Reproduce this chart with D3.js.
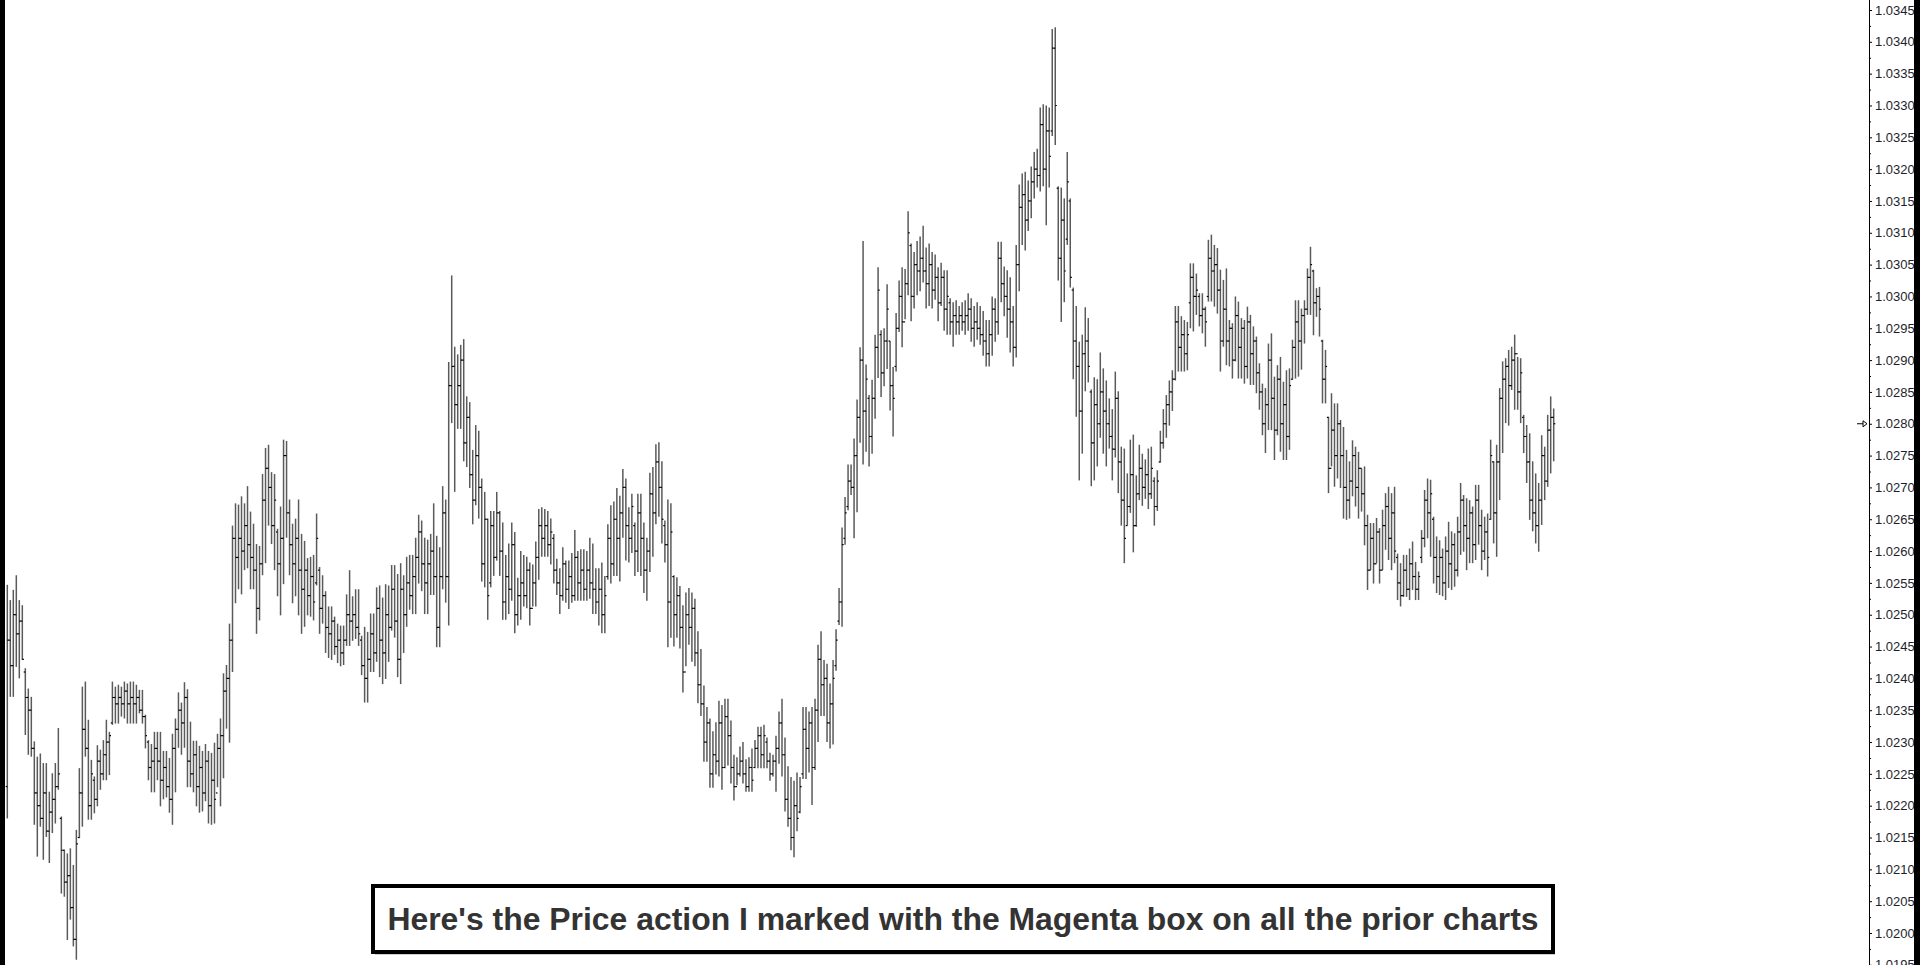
<!DOCTYPE html>
<html>
<head>
<meta charset="utf-8">
<script src="https://cdn.jsdelivr.net/npm/d3@7"></script>
<style>
  html, body { margin: 0; padding: 0; background: #fff; overflow: hidden; }
  svg { display: block; }
</style>
</head>
<body>
<svg id="chart" width="1920" height="965"></svg>
<script>
// all bar prices are in pips above 1.0000 (254.7 -> 1.02547)
const highs = [
254.7,252.3,253.9,256.2,252.3,251.5,241.6,238.4,237.1,230.1,
227.7,228.2,226.7,226.7,222.2,225.1,226.7,232.2,218.3,213.1,
212.5,213.3,210.7,216.2,225.9,238.7,239.5,233.5,227.2,224.6,
229.5,228.8,230.3,233.5,231.6,239.5,238.7,239.0,238.7,239.5,
239.2,239.5,239.5,239.0,238.2,238.2,234.3,230.3,229.7,231.6,
231.6,231.6,228.6,228.6,227.5,231.3,233.7,237.8,236.2,239.4,
238.3,233.2,230.2,230.2,229.4,228.6,229.7,228.6,228.3,229.9,
231.3,233.7,240.8,242.1,248.6,264.0,267.5,267.3,268.6,267.5,
270.2,266.2,264.3,261.1,260.8,272.1,276.2,276.7,272.4,272.1,
263.5,267.0,277.5,277.3,268.1,264.3,265.1,268.1,262.7,261.6,
258.9,259.1,259.4,265.9,257.5,256.2,253.7,251.3,251.3,249.7,
248.6,248.3,248.3,253.2,257.0,252.9,254.0,254.0,246.7,248.1,
247.3,250.2,250.2,254.3,254.6,252.7,254.8,254.6,257.8,257.8,
256.4,258.1,256.2,259.1,259.4,259.4,262.1,265.7,264.8,262.1,
261.8,262.7,267.5,262.4,260.6,270.2,268.1,289.7,303.3,292.1,
290.9,292.4,293.3,284.3,283.4,275.9,279.8,278.9,271.4,269.3,
265.1,266.3,266.3,269.3,266.3,264.5,259.4,261.2,264.5,263.0,
255.8,260.0,259.4,259.1,258.2,257.9,261.5,266.6,266.9,266.6,
266.3,265.1,262.7,258.8,257.3,260.6,258.5,258.5,259.7,263.3,
260.0,260.3,260.3,260.0,262.1,261.2,257.3,257.3,258.2,256.1,
264.2,267.2,267.8,269.9,268.7,272.9,271.4,266.9,269.0,264.5,
269.0,269.0,264.5,262.1,272.3,273.2,276.8,277.1,274.1,264.8,
268.1,267.5,256.2,255.9,254.5,251.5,253.5,254.2,253.5,252.5,
247.4,244.6,238.9,235.5,233.7,231.7,233.1,236.5,235.8,236.8,
236.8,233.4,228.0,227.6,229.3,230.0,227.3,227.6,229.0,230.3,
232.4,232.4,232.7,230.7,228.3,228.0,231.0,234.8,236.8,230.7,
226.2,224.5,223.9,225.2,224.5,235.5,235.5,234.8,235.5,236.8,
245.3,247.4,242.9,242.3,239.2,242.9,247.7,254.2,263.7,268.5,
273.6,273.6,277.7,283.8,292.0,308.7,289.3,284.5,286.9,294.0,
304.6,294.7,295.0,301.9,293.0,288.9,297.4,302.5,304.6,304.3,
313.4,308.3,307.0,308.7,309.4,311.1,307.7,308.3,307.0,306.6,
304.6,305.3,304.1,304.1,299.7,299.1,299.4,298.5,299.1,299.4,
300.5,299.7,298.5,299.1,298.5,297.7,296.3,296.3,300.0,299.7,
308.6,308.6,304.7,304.1,303.0,298.5,308.1,317.6,319.3,319.6,
318.2,320.4,322.7,323.2,329.7,330.2,330.0,329.7,342.0,342.3,
317.3,317.1,315.4,322.7,315.4,301.4,298.5,292.9,294.0,298.3,
296.6,285.4,287.3,287.0,291.2,288.7,286.8,284.0,282.3,288.2,
285.1,276.4,276.1,272.2,277.5,278.3,271.9,276.7,275.3,274.4,
276.1,276.4,271.6,272.7,278.9,282.3,284.5,286.8,288.4,298.5,
298.5,296.9,296.3,296.0,305.2,305.2,303.6,300.5,300.5,298.4,
308.9,309.7,308.1,307.6,304.2,302.6,304.4,296.3,295.8,300.0,
299.2,296.6,296.3,298.4,297.1,295.3,293.7,289.5,286.3,285.6,
292.6,294.2,287.4,289.2,290.5,286.6,288.4,288.7,293.2,299.4,
299.4,298.1,299.4,304.4,307.8,304.2,301.3,301.5,293.2,291.6,
281.1,284.8,283.2,283.2,280.6,279.5,275.9,274.1,277.4,276.4,
275.6,273.0,273.3,265.7,264.4,264.4,265.2,263.6,266.5,269.1,
270.1,269.1,270.1,259.6,258.1,259.4,259.4,260.4,261.5,258.3,
256.8,263.3,269.6,271.4,271.2,265.4,262.3,261.7,260.4,262.3,
264.6,263.1,262.8,265.4,270.7,268.8,268.3,268.0,267.0,270.4,
270.4,266.5,265.4,265.9,277.5,274.1,276.7,285.6,289.8,290.3,
291.6,292.1,294.0,290.5,290.3,281.4,279.8,278.5,274.1,272.2,
270.7,278.2,276.4,281.4,284.3,282.4
];
const lows = [
218.0,237.1,237.1,241.8,240.0,242.9,231.1,228.0,227.7,217.0,
212.0,216.7,211.5,215.1,211.0,215.7,217.2,222.5,206.2,205.7,
198.9,202.1,197.9,195.8,214.9,216.7,227.7,217.8,217.8,218.8,
219.9,222.5,224.0,224.0,224.8,232.7,232.9,232.9,234.0,233.7,
232.9,232.9,232.9,232.9,234.5,232.9,229.0,224.0,222.1,222.1,
224.0,219.9,221.0,221.3,218.9,217.0,222.1,229.1,228.0,229.1,
222.9,222.9,222.1,219.9,218.9,219.1,220.7,217.2,217.0,217.2,
222.9,219.9,224.3,232.1,229.9,241.0,251.8,254.0,253.2,257.0,
257.3,254.0,254.0,247.0,249.1,256.2,258.1,264.0,261.1,257.0,
252.9,249.9,254.8,262.1,256.2,251.8,252.9,249.9,247.0,248.1,
249.9,249.7,249.1,254.6,247.0,248.6,244.0,243.2,242.9,243.7,
242.4,241.9,242.1,245.1,245.1,245.9,246.2,245.1,240.5,236.2,
236.2,241.0,241.0,242.6,240.2,239.1,239.9,242.6,247.5,246.4,
240.2,239.1,244.0,248.1,250.8,250.1,250.1,254.9,253.7,250.1,
250.1,253.1,253.1,244.9,244.9,254.0,251.9,248.3,280.1,269.3,
279.2,279.2,274.1,273.2,269.9,264.2,267.2,265.1,255.2,254.3,
249.2,254.3,256.1,258.5,256.1,249.2,249.2,250.1,252.2,247.1,
248.3,249.2,251.3,251.0,248.3,251.3,251.3,255.5,259.1,259.1,
259.1,257.9,254.9,253.1,250.1,252.2,251.9,250.9,251.9,252.2,
252.2,252.2,252.2,252.2,252.5,250.1,250.1,248.3,247.1,247.1,
255.5,254.9,256.1,256.1,255.2,262.1,258.5,258.2,259.7,256.1,
256.7,256.1,253.4,252.2,256.7,259.1,264.2,265.4,261.2,258.2,
244.9,246.4,245.0,246.4,244.7,237.8,241.9,245.3,242.6,241.9,
236.1,234.1,226.9,226.9,222.8,222.8,224.9,224.6,222.5,225.9,
226.3,223.5,220.8,223.2,224.6,223.5,222.2,222.2,222.2,225.9,
225.9,225.9,225.9,225.9,223.9,224.6,222.2,226.6,224.6,219.1,
216.7,213.0,211.9,216.0,218.8,224.2,224.2,225.2,220.1,225.6,
230.0,234.1,234.1,230.0,229.0,229.6,241.2,248.4,248.1,261.0,
266.4,268.8,262.0,266.1,277.0,273.6,275.6,273.3,275.3,280.8,
287.2,284.2,285.9,288.6,282.1,278.0,288.2,294.4,292.0,296.4,
300.2,296.1,298.1,300.2,300.8,302.2,298.1,298.5,298.1,299.5,
296.1,298.5,294.6,294.0,294.0,292.1,294.0,294.0,294.6,294.0,
294.6,292.9,292.1,293.2,292.4,290.7,289.0,289.0,290.7,292.9,
294.0,299.1,296.9,293.5,291.2,289.0,290.4,300.8,308.1,307.2,
310.3,312.3,315.4,317.1,316.5,317.3,311.2,317.1,325.2,323.8,
302.5,296.0,299.1,308.1,301.4,287.0,281.1,271.1,275.3,285.1,
286.5,270.2,271.1,273.3,277.8,275.3,273.3,276.1,271.1,274.7,
269.1,264.0,258.1,264.0,266.0,259.8,263.8,268.0,267.1,268.2,
266.6,268.2,264.0,266.3,273.9,276.1,277.8,279.7,282.0,286.8,
288.2,288.2,288.2,288.4,295.0,294.5,297.1,295.3,294.2,292.1,
299.2,299.2,298.4,297.3,288.2,292.1,289.2,289.0,287.1,289.8,
287.1,287.1,286.3,287.1,286.1,286.1,284.8,282.2,278.2,275.4,
279.0,279.0,274.3,278.2,275.6,274.3,274.3,275.9,286.9,287.1,
287.4,288.5,292.6,297.1,297.1,293.9,296.8,293.7,283.2,283.2,
269.1,273.3,270.1,271.4,269.9,265.1,264.9,265.1,268.6,267.0,
265.1,266.2,260.9,253.9,257.0,254.9,258.1,254.9,257.0,260.2,
258.6,257.0,258.1,252.3,251.3,252.8,252.8,252.3,253.9,252.3,
252.3,258.1,260.6,262.0,259.1,254.9,253.4,253.1,252.9,252.3,
254.2,253.9,254.4,256.0,259.4,259.9,257.0,258.1,258.1,258.6,
261.0,257.0,258.6,256.0,264.9,261.2,259.1,268.0,275.4,280.1,
279.7,285.3,282.2,282.2,280.1,275.4,270.7,264.9,263.1,261.2,
259.9,264.1,268.0,270.1,272.2,274.1
];
const opens = [
223,246,242,250,247,249,241,237,235,229,
222,220,218,222,216,219,221,223,218,213,
208,209,204,199,215,222,232,229,220,224,
221,227,225,228,230,233,237,236,237,236,
238,236,237,236,237,235,234,230,226,227,
229,227,224,226,223,221,229,232,235,233,
237,227,225,228,223,226,222,227,220,224,
222,229,231,238,240,246,262,259,262,260,
264,261,259,257,251,258,268,273,270,264,
263,258,262,275,266,261,258,262,257,254,
257,253,256,255,257,251,253,248,247,249,
245,246,244,246,250,249,250,248,246,242,
240,243,247,244,251,246,244,250,248,254,
249,243,254,250,255,253,256,259,263,258,
255,258,260,256,248,256,266,256,286,289,
283,286,290,277,281,272,268,275,270,258,
265,255,264,259,266,260,252,256,254,261,
250,253,255,253,257,251,255,259,264,262,
264,261,262,257,255,253,258,254,256,253,
259,255,257,254,257,255,254,252,254,250,
256,262,258,265,262,266,270,264,262,264,
260,266,262,257,260,269,266,274,270,264,
261,252,256,250,253,248,241,250,248,251,
244,239,236,230,233,225,228,227,233,226,
234,231,226,223,225,227,225,223,226,226,
229,231,228,230,227,225,227,229,233,228,
221,218,215,220,219,225,232,229,233,226,
235,243,239,240,233,236,242,249,252,262,
267,271,270,275,281,290,282,284,278,284,
292,294,288,293,293,286,289,295,300,296,
302,308,300,305,304,306,304,302,305,301,
303,299,303,298,299,296,297,296,297,296,
297,298,295,296,295,294,293,291,294,298,
296,306,302,300,298,296,292,305,314,316,
312,315,318,320,319,327,320,326,326,339,
317,306,312,309,315,301,293,289,282,291,
293,285,277,283,280,285,282,280,278,276,
284,274,268,264,267,272,264,269,273,270,
272,269,271,267,274,277,280,283,285,287,
296,292,294,291,299,303,300,300,297,298,
300,306,304,305,301,293,298,293,295,290,
297,292,295,289,296,291,293,288,285,280,
283,290,284,279,287,280,283,278,287,292,
296,293,297,298,303,304,299,300,293,287,
281,273,279,275,280,275,270,268,271,275,
270,273,269,264,257,262,258,263,257,264,
267,262,266,259,255,253,257,254,258,256,
254,259,262,268,266,265,259,256,259,255,
260,258,261,257,263,268,264,262,266,261,
268,264,260,263,265,274,266,274,284,287,
289,286,290,291,285,281,278,274,268,266,
264,268,275,271,279,281
];
const closes = [
246,242,250,247,249,243,237,235,229,222,
220,218,222,216,219,221,223,225,213,208,
209,204,199,214,222,232,229,220,225,221,
227,225,228,230,231,237,236,237,236,238,
236,237,236,237,235,234,231,226,227,229,
227,224,226,223,221,229,232,235,233,237,
227,225,228,223,226,222,227,220,224,221,
229,231,238,240,246,262,259,262,260,264,
261,259,257,251,258,268,273,270,264,268,
258,262,275,266,261,258,262,257,254,257,
253,256,252,262,251,253,248,247,249,245,
246,244,246,250,249,250,248,247,242,240,
243,247,244,251,246,244,250,248,254,249,
243,254,250,255,253,256,259,263,258,255,
258,260,256,248,256,266,256,286,289,283,
286,290,277,281,272,268,275,270,258,265,
253,264,259,266,260,252,256,254,261,250,
253,255,253,257,251,255,259,264,262,264,
261,263,257,255,253,258,254,256,253,259,
255,257,254,257,255,254,252,254,250,253,
262,258,265,262,266,270,264,262,267,260,
266,262,257,260,269,266,274,270,265,261,
252,263,250,253,248,241,250,248,251,244,
239,236,230,233,225,228,227,233,226,234,
231,226,223,225,227,225,223,226,224,229,
231,228,231,227,225,227,229,233,228,221,
218,215,220,218,223,232,229,233,226,235,
243,239,240,233,236,240,246,252,261,266,
271,270,275,281,290,282,287,278,284,292,
301,288,293,298,286,284,295,300,296,302,
310,300,305,304,306,304,302,305,301,303,
299,303,298,300,296,297,296,297,296,297,
298,295,296,295,294,293,291,294,298,296,
306,302,300,298,296,292,305,314,316,312,
315,318,320,319,327,320,326,322,339,330,
306,312,304,318,303,293,289,282,291,293,
289,277,283,280,285,282,280,278,276,284,
274,268,262,267,272,264,269,273,270,272,
269,273,267,271,277,280,283,285,287,296,
292,294,291,294,303,300,301,297,298,296,
306,304,305,301,293,298,293,295,290,297,
292,295,289,296,291,293,288,285,280,283,
290,284,279,287,280,283,278,286,292,296,
293,297,298,303,305,299,300,298,287,289,
273,279,275,280,275,270,268,271,275,270,
273,269,264,257,262,258,263,257,264,267,
262,266,260,255,253,257,254,258,256,254,
256,262,268,266,269,259,256,259,255,260,
258,261,257,263,268,264,262,266,261,268,
264,260,263,259,275,266,274,284,287,289,
286,290,291,285,288,278,274,268,266,264,
268,275,271,279,281,280
];
const tickLabels = ["1.0195","1.0200","1.0205","1.0210","1.0215","1.0220","1.0225","1.0230",
  "1.0235","1.0240","1.0245","1.0250","1.0255","1.0260","1.0265","1.0270","1.0275","1.0280",
  "1.0285","1.0290","1.0295","1.0300","1.0305","1.0310","1.0315","1.0320","1.0325","1.0330",
  "1.0335","1.0340","1.0345"];
const lastPrice = 1.0280;
const caption = "Here's the Price action I marked with the Magenta box on all the prior charts";

const W = 1920, H = 965;
const axisX = 1869;
const svg = d3.select("#chart");
const toPrice = p => 1 + p / 10000;

const x = d3.scaleLinear().domain([0, highs.length - 1]).range([7.3, 1553.7]);
const y = d3.scaleLinear().domain([1.0200, 1.0345]).range([933, 10]);

const bars = highs.map((h, i) => ({
  i: i, h: toPrice(h), l: toPrice(lows[i]), o: toPrice(opens[i]), c: toPrice(closes[i])
}));

// OHLC bars
const gBars = svg.append("g").attr("class", "bars");
gBars.selectAll("line.hl").data(bars).join("line")
  .attr("class", "hl")
  .attr("x1", d => x(d.i)).attr("x2", d => x(d.i))
  .attr("y1", d => y(d.h)).attr("y2", d => y(d.l))
  .attr("stroke", "#5a5a5a").attr("stroke-width", 1.5);
gBars.selectAll("line.op").data(bars).join("line")
  .attr("class", "op")
  .attr("x1", d => x(d.i) - 1.6).attr("x2", d => x(d.i))
  .attr("y1", d => y(d.o)).attr("y2", d => y(d.o))
  .attr("stroke", "#000").attr("stroke-width", 1.2);
gBars.selectAll("line.cl").data(bars).join("line")
  .attr("class", "cl")
  .attr("x1", d => x(d.i)).attr("x2", d => x(d.i) + 1.6)
  .attr("y1", d => y(d.c)).attr("y2", d => y(d.c))
  .attr("stroke", "#000").attr("stroke-width", 1.2);

// price axis on the right
const majors = tickLabels.map(Number);
const minors = majors.map(v => v + 0.00025);
const gAxis = svg.append("g").attr("transform", "translate(" + axisX + ",0)");
gAxis.append("g")
  .call(d3.axisRight(y).tickValues(minors).tickFormat("").tickSize(2))
  .call(g => g.select(".domain").remove());
gAxis.append("g")
  .call(d3.axisRight(y).tickValues(majors).tickFormat(d3.format(".4f")).tickSize(3).tickPadding(3))
  .call(g => g.select(".domain").remove())
  .call(g => g.selectAll("text")
    .attr("font-family", "'Liberation Sans', Arial, sans-serif")
    .attr("font-size", 13)
    .attr("fill", "#1e1e2a"));
gAxis.selectAll(".tick line").attr("stroke", "#000");
gAxis.append("line").attr("x1", 0.5).attr("x2", 0.5).attr("y1", 0).attr("y2", H)
  .attr("stroke", "#000").attr("stroke-width", 1);

// last price marker
const my = y(lastPrice);
svg.append("path")
  .attr("d", "M" + (axisX - 12) + "," + my + "H" + (axisX - 6) +
             "M" + (axisX - 6) + "," + (my - 3) + "L" + (axisX - 2) + "," + my + "L" + (axisX - 6) + "," + (my + 3) + "Z")
  .attr("fill", "#fff").attr("stroke", "#000").attr("stroke-width", 1);

// black edges
svg.append("rect").attr("x", 0).attr("y", 0).attr("width", 5).attr("height", H).attr("fill", "#000");
svg.append("rect").attr("x", 1914).attr("y", 0).attr("width", 6).attr("height", H).attr("fill", "#000");

// caption box
const box = {x: 373, y: 886, w: 1180, h: 66};
svg.append("rect").attr("x", box.x + 2).attr("y", box.y + 3).attr("width", box.w).attr("height", box.h)
  .attr("fill", "#cfcfcf");
svg.append("rect").attr("x", box.x).attr("y", box.y).attr("width", box.w).attr("height", box.h)
  .attr("fill", "#fff").attr("stroke", "#000").attr("stroke-width", 4);
const txt = svg.append("text")
  .attr("x", box.x + box.w / 2).attr("y", box.y + box.h / 2)
  .attr("text-anchor", "middle").attr("dominant-baseline", "central")
  .attr("font-family", "'Liberation Sans', Arial, sans-serif")
  .attr("font-weight", "bold").attr("font-size", 30)
  .attr("fill", "#333")
  .text(caption);
const tw = txt.node().getComputedTextLength();
txt.attr("font-size", 30 * 1152 / tw);
</script>
</body>
</html>
